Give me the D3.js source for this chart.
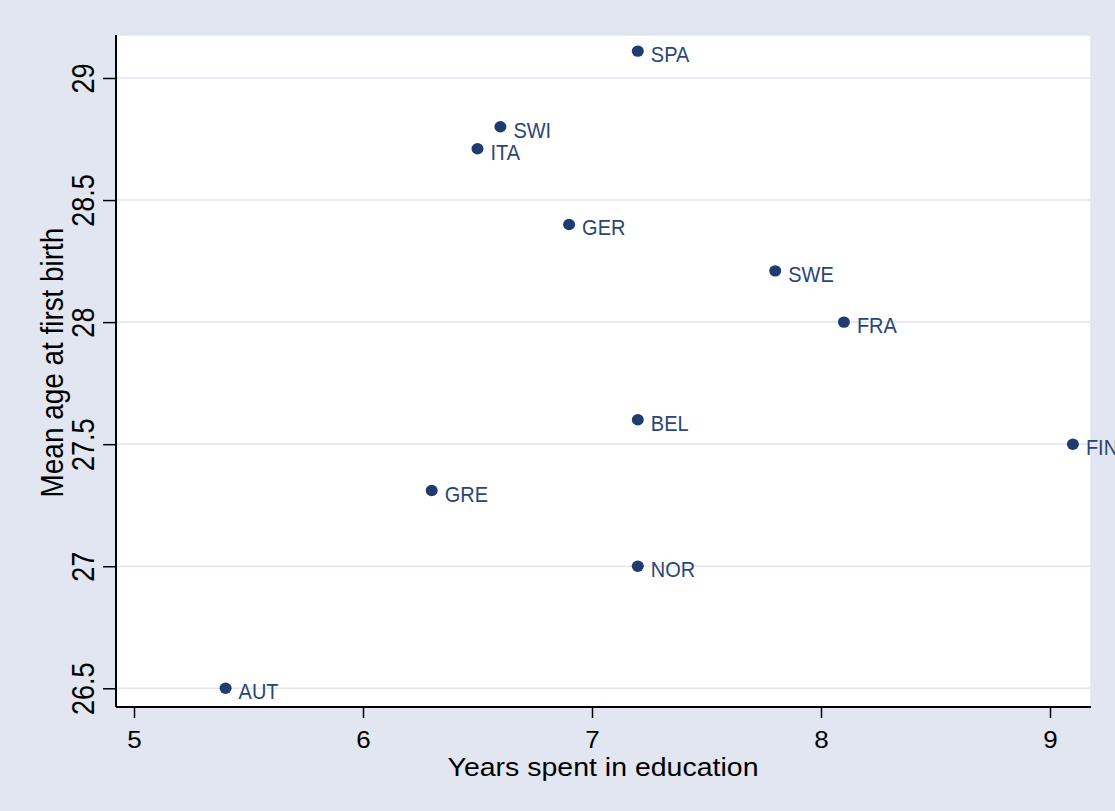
<!DOCTYPE html>
<html><head><meta charset="utf-8">
<script src="https://cdn.jsdelivr.net/npm/d3@7"></script>
<style>html,body{margin:0;padding:0;background:#e1e6f0;}svg{display:block;}</style>
</head><body>
<svg id="c" width="1115" height="811"></svg>
<script>
const countries = ["SPA","SWI","ITA","GER","SWE","FRA","BEL","FIN","GRE","NOR","AUT"];
const education = [7.2, 6.6, 6.5, 6.9, 7.8, 8.1, 7.2, 9.1, 6.3, 7.2, 5.4];
const ageFirstBirth = [29.11, 28.80, 28.71, 28.40, 28.21, 28.00, 27.60, 27.50, 27.31, 27.00, 26.50];
const xTicks = [5, 6, 7, 8, 9];
const yTicks = [26.5, 27, 27.5, 28, 28.5, 29];

const svg = d3.select("#c");
const bg = "#e1e6f0", navy = "#1f3b6f";
const FONT = "Liberation Sans, Arial, sans-serif";
svg.append("rect").attr("width",1115).attr("height",811).attr("fill",bg);

const L = 116, R = 1091, T = 35, B = 707;
const x = d3.scaleLinear().domain([5, 9]).range([134, 1050]);
const y = d3.scaleLinear().domain([26.5, 29]).range([688.3, 78]);

svg.append("rect").attr("x",L).attr("y",T).attr("width",R-L).attr("height",B-T)
  .attr("fill","#fff").attr("stroke",bg).attr("stroke-width",1.5);

// gridlines
svg.append("g").selectAll("line").data(yTicks).join("line")
  .attr("x1",L).attr("x2",R).attr("y1",d=>y(d)).attr("y2",d=>y(d))
  .attr("stroke",bg).attr("stroke-width",1.6);

// x axis
const xa = svg.append("g").attr("transform",`translate(0,${B})`)
  .call(d3.axisBottom(x).tickValues(xTicks).tickFormat(d3.format("d")).tickSize(11).tickSizeOuter(0));
xa.select(".domain").attr("d",`M${L},0H${R}`).attr("stroke","#000").attr("stroke-width",2);
xa.selectAll(".tick line").attr("stroke","#000").attr("stroke-width",1.5);
xa.selectAll(".tick text").attr("font-family",FONT).attr("font-size",23).attr("fill","#000")
  .attr("y",null).attr("dy",null).attr("text-anchor","middle")
  .attr("transform","translate(0,41) scale(1.13,1)");

// y axis
const ya = svg.append("g").attr("transform",`translate(${L},0)`)
  .call(d3.axisLeft(y).tickValues(yTicks).tickFormat(d=>String(d)).tickSize(13).tickSizeOuter(0));
ya.select(".domain").attr("d",`M0,${T}V${B}`).attr("stroke","#000").attr("stroke-width",2);
ya.selectAll(".tick line").attr("stroke","#000").attr("stroke-width",1.5);
ya.selectAll(".tick text")
  .attr("font-family",FONT).attr("font-size",27).attr("fill","#000")
  .attr("x",null).attr("dy",null).attr("text-anchor","middle")
  .attr("transform","translate(-22,0) rotate(-90) scale(1,1.13)");

// titles
svg.append("text").attr("transform","translate(603,776) scale(1.14,1)").attr("text-anchor","middle")
  .attr("font-family",FONT).attr("font-size",25).attr("fill","#000")
  .text("Years spent in education");
svg.append("text").attr("transform","translate(63,362.5) rotate(-90) scale(1,1.14)").attr("text-anchor","middle")
  .attr("font-family",FONT).attr("font-size",27.9).attr("fill","#000")
  .text("Mean age at first birth");

// points
const data = countries.map((c,i)=>({c, x:education[i], y:ageFirstBirth[i]}));
const g = svg.append("g");
g.selectAll("ellipse").data(data).join("ellipse")
  .attr("cx",d=>x(d.x)).attr("cy",d=>y(d.y)).attr("rx",6).attr("ry",5.7).attr("fill",navy);
g.selectAll("text").data(data).join("text")
  .attr("transform",d=>`translate(${x(d.x)+13},${y(d.y)+11}) scale(1,1.08)`)
  .attr("font-family",FONT).attr("font-size",20).attr("fill","#2a4677")
  .text(d=>d.c);
</script>
</body></html>
